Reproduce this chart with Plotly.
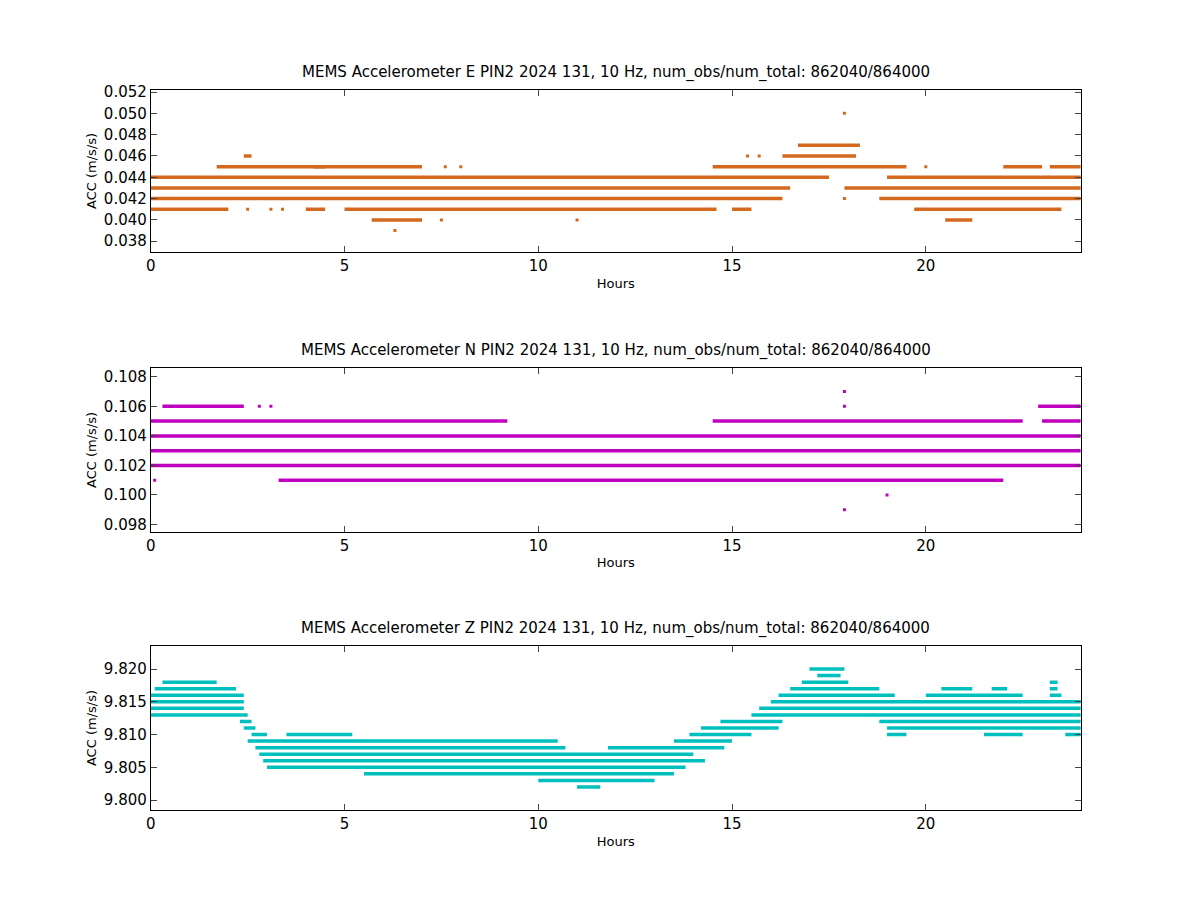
import plotly.graph_objects as go

# segments: (level, start_hour, end_hour); dots: (level, hour)
e_segments = [
    (0.047, 16.7, 18.3), (0.046, 16.3, 18.2), (0.046, 2.4, 2.6),
    (0.045, 1.7, 4.5), (0.045, 4.2, 7.0), (0.045, 14.5, 19.5), (0.045, 22.0, 23.0), (0.045, 23.2, 24.0),
    (0.044, 0.0, 17.5), (0.044, 19.0, 24.0),
    (0.043, 0.0, 16.5), (0.043, 17.9, 24.0),
    (0.042, 0.0, 16.3), (0.042, 18.8, 24.0),
    (0.041, 0.0, 2.0), (0.041, 4.0, 4.5), (0.041, 5.0, 14.6), (0.041, 15.0, 15.5), (0.041, 19.7, 23.5),
    (0.040, 5.7, 7.0), (0.040, 20.5, 21.2),
]
e_dots = [(0.050, 17.9), (0.046, 15.4), (0.046, 15.7), (0.045, 7.6), (0.045, 8.0), (0.045, 20.0),
          (0.042, 17.9), (0.041, 2.5), (0.041, 3.1), (0.041, 3.4), (0.040, 7.5), (0.040, 11.0),
          (0.039, 6.3)]

n_segments = [
    (0.106, 0.3, 2.4), (0.106, 22.9, 24.0),
    (0.105, 0.0, 9.2), (0.105, 14.5, 22.5), (0.105, 23.0, 24.0),
    (0.104, 0.0, 24.0), (0.103, 0.0, 24.0), (0.102, 0.0, 24.0),
    (0.101, 3.3, 22.0),
]
n_dots = [(0.107, 17.9), (0.106, 17.9), (0.106, 2.8), (0.106, 3.1), (0.101, 0.1),
          (0.100, 19.0), (0.099, 17.9)]

z_segments = [
    (9.820, 17.0, 17.9), (9.819, 17.2, 17.8),
    (9.818, 0.3, 1.7), (9.818, 16.8, 18.0), (9.818, 23.2, 23.4),
    (9.817, 0.1, 2.2), (9.817, 16.5, 18.8), (9.817, 20.4, 21.2), (9.817, 21.7, 22.1), (9.817, 23.2, 23.4),
    (9.816, 0.0, 2.4), (9.816, 16.2, 19.2), (9.816, 20.0, 22.5), (9.816, 23.2, 23.5),
    (9.815, 0.0, 2.4), (9.815, 16.0, 24.0),
    (9.814, 0.0, 2.4), (9.814, 15.7, 24.0),
    (9.813, 0.0, 2.5), (9.813, 15.5, 24.0),
    (9.812, 2.3, 2.6), (9.812, 14.7, 16.3), (9.812, 18.8, 24.0),
    (9.811, 2.4, 2.7), (9.811, 14.2, 16.2), (9.811, 19.0, 24.0),
    (9.810, 2.6, 3.0), (9.810, 3.5, 5.2), (9.810, 13.9, 15.5), (9.810, 19.0, 19.5), (9.810, 21.5, 22.5), (9.810, 23.6, 24.0),
    (9.809, 2.5, 10.5), (9.809, 13.5, 15.0),
    (9.808, 2.7, 10.7), (9.808, 11.8, 14.8),
    (9.807, 2.8, 14.0), (9.806, 2.9, 14.3), (9.805, 3.0, 13.8),
    (9.804, 5.5, 13.5), (9.803, 10.0, 13.0), (9.802, 11.0, 11.6),
]
z_dots = []

panels = [
    ("E", e_segments, e_dots, "#d2691e", [0.037, 0.0522], 0.002, [0.729, 0.909]),
    ("N", n_segments, n_dots, "#bf00bf", [0.0975, 0.1086], 0.002, [0.418, 0.600]),
    ("Z", z_segments, z_dots, "#00bfbf", [9.7985, 9.8235], 0.005, [0.109, 0.291]),
]

fig = go.Figure()
layout = {}
for i, (comp, segs, dots, color, yr, dt, dom) in enumerate(panels):
    n = "" if i == 0 else str(i + 1)
    xs, ys = [], []
    for lev, a, b in segs:
        xs += [a, b, None]
        ys += [lev, lev, None]
    fig.add_trace(go.Scatter(x=xs, y=ys, mode="lines", line=dict(color=color, width=3.5),
                             xaxis="x" + n, yaxis="y" + n, showlegend=False))
    if dots:
        fig.add_trace(go.Scatter(x=[d[1] for d in dots], y=[d[0] for d in dots], mode="markers",
                                 marker=dict(color=color, size=3, symbol="square"),
                                 xaxis="x" + n, yaxis="y" + n, showlegend=False))
    axstyle = dict(showline=True, linecolor="black", linewidth=1, mirror="ticks", ticks="inside",
                   ticklen=6, showgrid=False, zeroline=False, automargin=False,
                   tickfont=dict(size=15, color="black"))
    layout["xaxis" + n] = dict(axstyle, domain=[0.119, 0.894], range=[0, 24], dtick=5,
                               anchor="y" + n,
                               title=dict(text="Hours", font=dict(size=13), standoff=4))
    layout["yaxis" + n] = dict(axstyle, domain=dom, range=yr, dtick=dt, tickformat=".3f",
                               anchor="x" + n,
                               title=dict(text="ACC (m/s/s)", font=dict(size=13), standoff=4))
    fig.add_annotation(x=0.5065, y=dom[1], xref="paper", yref="paper", yshift=6,
                       yanchor="bottom", showarrow=False,
                       text=f"MEMS Accelerometer {comp} PIN2 2024 131, 10 Hz, num_obs/num_total: 862040/864000",
                       font=dict(size=15, color="black"))

fig.update_layout(width=1200, height=900, margin=dict(l=0, r=0, t=0, b=0),
                  plot_bgcolor="white", paper_bgcolor="white",
                  font=dict(family="DejaVu Sans", color="black"), **layout)
fig.write_html("out.html")
